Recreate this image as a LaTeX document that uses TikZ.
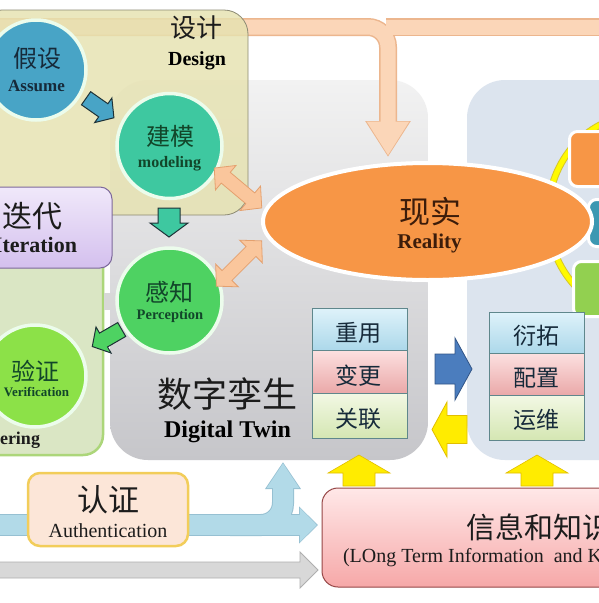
\documentclass[tikz,border=0pt]{standalone}
\usepackage{fontspec}
\setmainfont{Liberation Serif}
\newfontfamily\cjk{Noto Sans CJK SC}
\usetikzlibrary{shapes.geometric,arrows.meta}
\newcommand\myfs[1]{\fontsize{#1pt}{#1pt}\selectfont}
% #1 style, #2 centre, #3 angle, #4 length, #5 shaft width, #6 head width, #7 head length
\newcommand\blkarrow[7]{\begin{scope}[shift={#2},rotate=#3]
\filldraw[#1] ({-#4/2},{-#5/2}) -- ({#4/2-#7},{-#5/2}) -- ({#4/2-#7},{-#6/2}) -- ({#4/2},0) -- ({#4/2-#7},{#6/2}) -- ({#4/2-#7},{#5/2}) -- ({-#4/2},{#5/2}) -- cycle;
\end{scope}}
\newcommand\dblarrow[7]{\begin{scope}[shift={#2},rotate=#3]
\filldraw[#1] ({-#4/2},0) -- ({-#4/2+#7},{-#6/2}) -- ({-#4/2+#7},{-#5/2}) -- ({#4/2-#7},{-#5/2}) -- ({#4/2-#7},{-#6/2}) -- ({#4/2},0) -- ({#4/2-#7},{#6/2}) -- ({#4/2-#7},{#5/2}) -- ({-#4/2+#7},{#5/2}) -- ({-#4/2+#7},{#6/2}) -- cycle;
\end{scope}}
\definecolor{peach}{RGB}{251,214,184}
\definecolor{peachd}{RGB}{236,182,142}
\definecolor{dpeach}{RGB}{250,198,156}
\definecolor{dpeachd}{RGB}{228,160,110}
\definecolor{designc}{RGB}{230,226,176}
\definecolor{designb}{RGB}{140,138,115}
\definecolor{dttop}{RGB}{242,242,242}
\definecolor{dtbot}{RGB}{198,198,202}
\definecolor{rbox}{RGB}{220,228,238}
\definecolor{engc}{RGB}{218,230,196}
\definecolor{engb}{RGB}{172,214,122}
\definecolor{ittop}{RGB}{240,232,250}
\definecolor{itbot}{RGB}{212,192,238}
\definecolor{itb}{RGB}{125,105,155}
\definecolor{cassume}{RGB}{72,164,198}
\definecolor{cmodel}{RGB}{62,200,160}
\definecolor{cperc}{RGB}{78,210,98}
\definecolor{cverif}{RGB}{140,225,72}
\definecolor{cring}{RGB}{236,252,236}
\definecolor{tdark}{RGB}{22,42,58}
\definecolor{tgreen}{RGB}{18,70,42}
\definecolor{outl}{RGB}{30,50,55}
\definecolor{real}{RGB}{247,150,70}
\definecolor{realt}{RGB}{60,28,10}
\definecolor{cteal}{RGB}{60,152,178}
\definecolor{cgrn}{RGB}{146,208,80}
\definecolor{yring}{RGB}{255,250,0}
\definecolor{yringd}{RGB}{215,200,40}
\definecolor{sbtop}{RGB}{222,242,250}
\definecolor{sbbot}{RGB}{172,216,234}
\definecolor{sptop}{RGB}{252,224,224}
\definecolor{spbot}{RGB}{234,168,168}
\definecolor{sgtop}{RGB}{242,248,228}
\definecolor{sgbot}{RGB}{212,230,178}
\definecolor{sborder}{RGB}{95,135,140}
\definecolor{barr}{RGB}{75,125,190}
\definecolor{barrd}{RGB}{50,85,135}
\definecolor{yarr}{RGB}{255,236,0}
\definecolor{yarrd}{RGB}{225,190,0}
\definecolor{ablue}{RGB}{178,218,232}
\definecolor{ablued}{RGB}{150,192,210}
\definecolor{agrey}{RGB}{216,216,216}
\definecolor{agreyd}{RGB}{175,175,175}
\definecolor{authf}{RGB}{252,230,216}
\definecolor{authb}{RGB}{242,205,90}
\definecolor{inftop}{RGB}{255,232,232}
\definecolor{infbot}{RGB}{246,168,168}
\definecolor{infb}{RGB}{150,70,70}
\definecolor{tblack}{RGB}{28,28,28}
\tikzset{
  panel/.style={rectangle, inner sep=0pt, outer sep=0pt, anchor=north west},
  circ/.style={circle, inner sep=0pt, draw=cring, line width=3.5pt},
  txt/.style={inner sep=0pt, outer sep=0pt},
  darkarrow/.style={draw=outl, line width=1pt, line join=miter},
  peacharrow/.style={fill=dpeach, draw=dpeachd, line width=0.8pt, line join=miter},
  stackbox/.style={rectangle, inner sep=0pt, draw=sborder, line width=0.8pt, minimum width=95pt, anchor=north west},
  smallbox/.style={rectangle, rounded corners=8pt, draw=white, line width=3pt, anchor=north west, inner sep=0pt},
}
\begin{document}
\begin{tikzpicture}[x=1pt,y=-1pt]
\useasboundingbox (0,0) rectangle (599,603);
\clip (0,0) rectangle (599,603);
\fill[white] (0,0) rectangle (599,603);

% panels
\node[panel, fill=rbox, rounded corners=38pt, minimum width=200pt, minimum height=380pt] (rpanel) at (467,80) {};
\node[panel, top color=dttop, bottom color=dtbot, rounded corners=38pt, minimum width=318pt, minimum height=380pt] (dt) at (110,80) {};

% top peach arrow
\coordinate (pk0) at (-10,27);
\coordinate (pk1) at (388,27);
\coordinate (pk2) at (386,27);
\coordinate (pkend) at (388,157);
\coordinate (pkR) at (620,27);
\draw[line width=18pt, peachd, rounded corners=20pt, -{Triangle[width=43pt,length=36pt]}] (pk0) -- (pk1) -- (pkend);
\draw[line width=18pt, peachd] (pk2) -- (pkR);
\draw[line width=15pt, peach, rounded corners=20pt, shorten >=1.5pt, -{Triangle[width=40pt,length=34pt]}] (pk0) -- (pk1) -- (pkend);
\draw[line width=15pt, peach] (pk2) -- (pkR);

% design panel
\node[panel, fill=designc, fill opacity=0.82, draw=designb, line width=0.8pt, rounded corners=24pt, minimum width=270pt, minimum height=205pt] (design) at (-22,10) {};

% engineering panel
\node[panel, fill=engc, draw=engb, line width=2.5pt, rounded corners=20pt, minimum width=125pt, minimum height=225pt] (eng) at (-22,230) {};
\node[panel, fill=agrey, minimum width=12pt, minimum height=17pt] (stub) at (104,293) {};
% iteration panel
\node[panel, top color=ittop, bottom color=itbot, draw=itb, line width=1pt, rounded corners=12pt, minimum width=134pt, minimum height=81pt] (iter) at (-22,187) {};

% yellow ring and right boxes
\node[ellipse, inner sep=0pt, minimum width=184pt, minimum height=200pt, draw=yringd, double=yring, double distance=5pt, line width=1pt] (ring) at (640,215) {};
\node[smallbox, fill=real, minimum width=80pt, minimum height=55pt] (rb1) at (568,130) {};
\node[smallbox, fill=cteal, minimum width=60pt, minimum height=47pt] (rb2) at (587,198) {};
\node[smallbox, fill=cgrn, minimum width=80pt, minimum height=55pt] (rb3) at (572,260) {};

% reality
\node[ellipse, inner sep=0pt, fill=real, draw=white, line width=4pt, minimum width=329pt, minimum height=117pt] (reality) at (427.5,221.5) {};

% circles
\node[circ, fill=cassume, minimum size=100pt] (assume) at (36,70) {};
\node[circ, fill=cmodel, minimum size=105pt] (model) at (169.5,146) {};
\node[circ, fill=cperc, minimum size=105pt] (perc) at (169.5,300.5) {};
\node[circ, fill=cverif, minimum size=102pt] (verif) at (35,376) {};

% small block arrows
\blkarrow{darkarrow, fill=cassume}{(100,108)}{-35}{34}{16}{30}{13}
\blkarrow{darkarrow, fill=cmodel}{(169,222.5)}{-90}{29}{22}{38}{14}
\blkarrow{darkarrow, fill=cperc}{(107,338)}{210}{34}{16}{30}{13}

% double arrows
\dblarrow{peacharrow}{(238,188)}{-40}{62}{14}{32}{15}
\dblarrow{peacharrow}{(239,263.5)}{45}{64}{14}{32}{15}

% stacks
\node[stackbox, top color=sbtop, bottom color=sbbot, minimum height=42pt] (s1) at (312,308) {};
\node[stackbox, top color=sptop, bottom color=spbot, minimum height=43pt] (s2) at (312,350) {};
\node[stackbox, top color=sgtop, bottom color=sgbot, minimum height=45pt] (s3) at (312,393) {};
\node[stackbox, top color=sbtop, bottom color=sbbot, minimum height=41pt] (r1) at (489,312) {};
\node[stackbox, top color=sptop, bottom color=spbot, minimum height=42pt] (r2) at (489,353) {};
\node[stackbox, top color=sgtop, bottom color=sgbot, minimum height=45pt] (r3) at (489,395) {};

% middle arrows
\blkarrow{fill=barr, draw=barrd, line width=0.8pt, line join=miter}{(453.5,369)}{0}{37}{30}{62}{17}
\blkarrow{fill=yarr, draw=yarrd, line width=0.8pt, line join=miter}{(449.5,429.5)}{180}{35}{28}{55}{15}

% bottom arrows
\coordinate (bl0) at (-10,525);
\coordinate (bl1) at (318,525);
\coordinate (bb0) at (230,525);
\coordinate (bb1) at (283,525);
\coordinate (bb2) at (283,462);
\draw[line width=22pt, ablued, -{Triangle[width=36pt,length=19pt]}] (bl0) -- (bl1);
\draw[line width=22pt, ablued, rounded corners=22pt, -{Triangle[width=34pt,length=27pt]}] (bb0) -- (bb1) -- (bb2);
\draw[line width=20pt, ablue, shorten >=1.2pt, -{Triangle[width=33pt,length=17pt]}] (bl0) -- (bl1);
\draw[line width=20pt, ablue, rounded corners=22pt, shorten >=1.2pt, -{Triangle[width=31pt,length=25pt]}] (bb0) -- (bb1) -- (bb2);
\blkarrow{fill=agrey, draw=agreyd, line width=0.8pt, line join=miter}{(153,570)}{0}{330}{16}{36}{18}

\node[panel, fill=authf, draw=authb, line width=2.5pt, rounded corners=12pt, minimum width=160pt, minimum height=73pt] (auth) at (28,473) {};
\node[panel, top color=inftop, bottom color=infbot, draw=infb, line width=1pt, rounded corners=16pt, minimum width=320pt, minimum height=99pt] (info) at (322,488) {};

\blkarrow{fill=yarr, draw=yarrd, line width=0.6pt, line join=miter}{(359,470.5)}{90}{31}{32}{62}{18}
\blkarrow{fill=yarr, draw=yarrd, line width=0.6pt, line join=miter}{(537,470.5)}{90}{31}{32}{62}{18}

% texts
\node[txt, text=tblack] (tDesC) at (196,28) {\cjk\myfs{26}设计};
\node[txt, text=black] (tDesE) at (197,61) {\bfseries\myfs{20}Design};
\node[txt, text=tdark] (tAsC) at (37,58.5) {\cjk\myfs{24}假设};
\node[txt, text=tdark] (tAsE) at (36.5,86) {\bfseries\myfs{17}Assume};
\node[txt, text=tgreen] (tMoC) at (170,136.5) {\cjk\myfs{24}建模};
\node[txt, text=tgreen] (tMoE) at (169.5,164) {\bfseries\myfs{16}modeling};
\node[txt, text=tgreen] (tPeC) at (169,292) {\cjk\myfs{24}感知};
\node[txt, text=tgreen] (tPeE) at (170,316) {\bfseries\myfs{14.5}Perception};
\node[txt, text=tgreen] (tVeC) at (36,371) {\cjk\myfs{24}验证};
\node[txt, text=tgreen] (tVeE) at (36.5,392.5) {\bfseries\myfs{13}Verification};
\node[txt, text=tblack] (tItC) at (32.5,216) {\cjk\myfs{30}迭代};
\node[txt, text=tblack] (tItE) at (35.5,245) {\bfseries\myfs{22}Iteration};
\node[txt, text=tblack, anchor=base east] (tEng) at (40,444.5) {\bfseries\myfs{18}Engineering};
\node[txt, text=realt] (tReC) at (430.5,211.5) {\cjk\myfs{31}现实};
\node[txt, text=realt] (tReE) at (429.5,243.5) {\bfseries\myfs{21}Reality};
\node[txt, text=tdark] (ts1) at (358.5,333) {\cjk\myfs{23}重用};
\node[txt, text=tdark] (ts2) at (358.5,376) {\cjk\myfs{23}变更};
\node[txt, text=tdark] (ts3) at (358.5,419) {\cjk\myfs{23}关联};
\node[txt, text=tdark] (tr1) at (536,336) {\cjk\myfs{23}衍拓};
\node[txt, text=tdark] (tr2) at (536,378) {\cjk\myfs{23}配置};
\node[txt, text=tdark] (tr3) at (536,420) {\cjk\myfs{23}运维};
\node[txt, text=tblack] (tDtC) at (227.5,394) {\cjk\myfs{35}数字孪生};
\node[txt, text=black] (tDtE) at (227.5,432) {\bfseries\myfs{24}Digital Twin};
\node[txt, text=tblack] (tAuC) at (108.5,500) {\cjk\myfs{31}认证};
\node[txt, text=tblack] (tAuE) at (108,530.5) {\myfs{20}Authentication};
\node[txt, text=tblack, anchor=west] (tInC) at (466,527.5) {\cjk\myfs{29}信息和知识};
\node[txt, text=tblack, anchor=west] (tInE) at (343,557.5) {\myfs{20}(LOng Term Information\ \ and Knowledge};
\end{tikzpicture}
\end{document}
